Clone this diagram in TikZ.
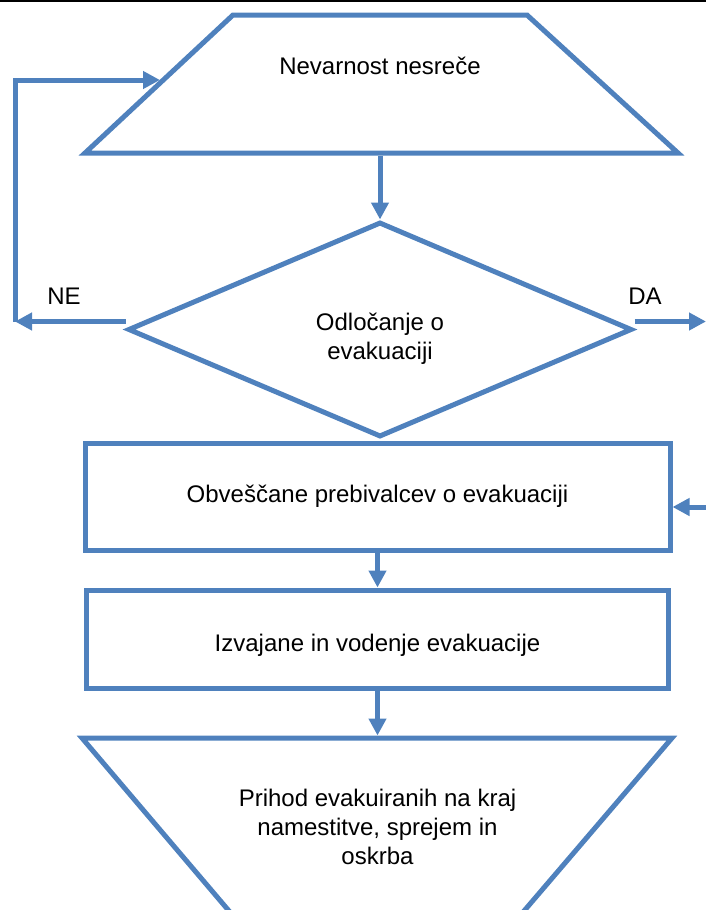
\documentclass[tikz,border=0pt]{standalone}
\usepackage{fontspec}
\setmainfont{Liberation Sans}
\usetikzlibrary{shapes.geometric,arrows.meta}
\definecolor{flowblue}{HTML}{4F81BD}
\begin{document}
\begin{tikzpicture}[x=1pt, y=-1pt,
		every node/.style={font=\fontsize{24}{29}\selectfont},
		shp/.style={draw=flowblue, line width=5pt, inner sep=0pt},
		arr/.style={draw=flowblue, line width=5pt, -{Triangle[length=17pt,width=17pt]}}]
				\useasboundingbox (0,0) rectangle (706,910);
				\clip (0,0) rectangle (706,910);
				\draw[line width=2pt] (0,1) -- (706,1);

				% Hazard
				\draw[shp] (233,15) -- (527,15) -- (678,153) -- (85,153) -- cycle;
				\node (hazard) at (380,66) {Nevarnost nesreče};
				\coordinate (hazardS) at (380,155.5);
				\coordinate (hazardW) at (160,80);

				% Decision
				\node[shp, diamond, minimum width=504pt, minimum height=215pt] (decision) at (380,329.5) {};
				\node[align=center] (decisiontxt) at (380,339) {Odločanje o\\evakuaciji};
				\coordinate (ne) at (15,321.5);
				\coordinate (da) at (706,321.5);
				\node (netxt) at (64,296) {NE};
				\node (datxt) at (645,296) {DA};

				% Notification
				\node[shp, rectangle, minimum width=585pt, minimum height=107pt] (notify) at (377.5,496.5) {Obveščane prebivalcev o evakuaciji};
				\coordinate (back) at (706,507);

				% Evacuation
				\node[shp, rectangle, minimum width=582pt, minimum height=98pt] (evac) at (377.5,639) {};
				\node (evactxt) at (377.5,645) {Izvajane in vodenje evakuacije};

				% Arrival
				\draw[shp] (82,738) -- (672,738) -- (518,918) -- (235,918) -- cycle;
				\coordinate (arrivalN) at (377.5,735.5);
				\node[align=center] (arrival) at (377.5,827) {Prihod evakuiranih na kraj\\namestitve, sprejem in\\oskrba};

				% Connectors
				\draw[arr] (hazardS) -- (decision.north);
				\draw[arr] ([yshift=8pt]decision.west) -- (ne);
				\draw[arr] (ne) |- (hazardW);
				\draw[arr] ([yshift=8pt]decision.east) -- (da);
				\draw[arr] (back) -- (back -| notify.east);
				\draw[arr] (notify.south) -- (evac.north);
				\draw[arr] (evac.south) -- (arrivalN);
			\end{tikzpicture}
\end{document}
